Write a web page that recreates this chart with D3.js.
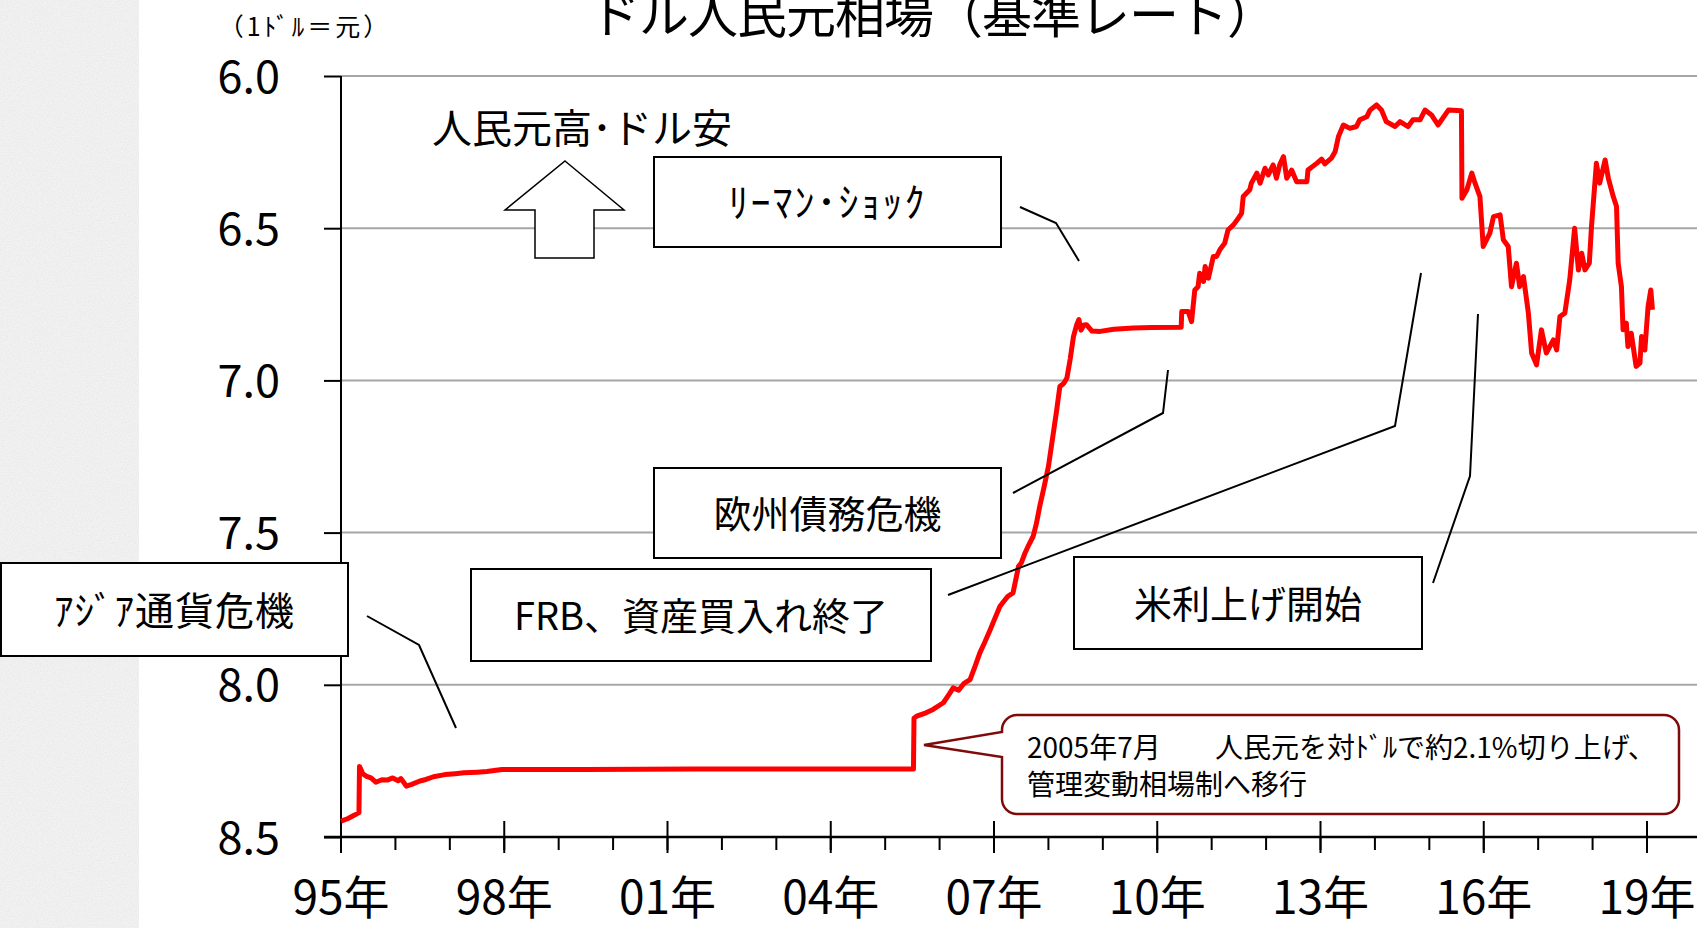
<!DOCTYPE html>
<html>
<head>
<meta charset="utf-8">
<script src="https://cdn.jsdelivr.net/npm/d3@7"></script>
<style>
  body { margin: 0; background: #fff; }
  svg { display: block; }
  text { font-family: "Noto Sans CJK JP", "Noto Sans", sans-serif; fill: #000; }
</style>
</head>
<body>
<script>
var width = 1697;
var height = 928;

// rate series (CNY per USD)
var years = [
  1995.00, 1995.12, 1995.25, 1995.33, 1995.34, 1995.40, 1995.46, 1995.55, 1995.64, 1995.75,
  1995.85, 1995.95, 1996.05, 1996.10, 1996.15, 1996.20, 1996.30, 1996.45, 1996.56, 1996.70,
  1996.91, 1997.10, 1997.26, 1997.50, 1997.68, 1997.85, 1997.96, 1999.50, 2001.50, 2003.50,
  2005.52, 2005.53, 2005.58, 2005.75, 2005.88, 2006.07, 2006.18, 2006.25, 2006.35, 2006.45,
  2006.56, 2006.65, 2006.74, 2006.83, 2006.93, 2007.02, 2007.11, 2007.25, 2007.35, 2007.45,
  2007.50, 2007.57, 2007.64, 2007.72, 2007.78, 2007.84, 2007.92, 2008.00, 2008.09, 2008.15,
  2008.21, 2008.28, 2008.34, 2008.40, 2008.46, 2008.52, 2008.56, 2008.60, 2008.65, 2008.70,
  2008.80, 2008.95, 2009.20, 2009.56, 2009.90, 2010.44, 2010.45, 2010.57, 2010.63, 2010.69,
  2010.75, 2010.78, 2010.85, 2010.88, 2010.94, 2011.03, 2011.09, 2011.15, 2011.24, 2011.30,
  2011.40, 2011.49, 2011.55, 2011.58, 2011.70, 2011.73, 2011.83, 2011.89, 2011.98, 2012.04,
  2012.13, 2012.19, 2012.25, 2012.32, 2012.38, 2012.47, 2012.56, 2012.75, 2012.77, 2012.93,
  2013.02, 2013.08, 2013.20, 2013.27, 2013.33, 2013.42, 2013.54, 2013.66, 2013.72, 2013.85,
  2013.91, 2014.03, 2014.12, 2014.21, 2014.37, 2014.46, 2014.61, 2014.70, 2014.83, 2014.92,
  2015.04, 2015.16, 2015.35, 2015.59, 2015.60, 2015.69, 2015.78, 2015.84, 2015.93, 2015.99,
  2016.11, 2016.18, 2016.30, 2016.36, 2016.45, 2016.51, 2016.60, 2016.66, 2016.73, 2016.82,
  2016.88, 2016.97, 2017.06, 2017.15, 2017.28, 2017.34, 2017.40, 2017.49, 2017.58, 2017.67,
  2017.74, 2017.80, 2017.86, 2017.94, 2017.98, 2018.07, 2018.13, 2018.23, 2018.29, 2018.38,
  2018.44, 2018.47, 2018.53, 2018.56, 2018.62, 2018.65, 2018.71, 2018.80, 2018.87, 2018.90,
  2018.96, 2019.02, 2019.07, 2019.10
];
var rates = [
  8.448, 8.440, 8.428, 8.420, 8.268, 8.292, 8.300, 8.306, 8.320, 8.312,
  8.313, 8.306, 8.315, 8.308, 8.320, 8.333, 8.327, 8.316, 8.311, 8.302,
  8.295, 8.292, 8.289, 8.287, 8.285, 8.281, 8.278, 8.278, 8.277, 8.277,
  8.277, 8.110, 8.103, 8.092, 8.081, 8.059, 8.030, 8.010, 8.018, 7.995,
  7.983, 7.940, 7.895, 7.860, 7.819, 7.780, 7.742, 7.710, 7.698, 7.611,
  7.600, 7.567, 7.540, 7.512, 7.470, 7.414, 7.350, 7.283, 7.173, 7.100,
  7.020, 7.010, 6.992, 6.930, 6.856, 6.817, 6.800, 6.835, 6.818, 6.817,
  6.838, 6.839, 6.832, 6.828, 6.826, 6.825, 6.774, 6.774, 6.807, 6.703,
  6.692, 6.648, 6.675, 6.626, 6.664, 6.593, 6.593, 6.571, 6.549, 6.506,
  6.489, 6.467, 6.451, 6.396, 6.374, 6.352, 6.319, 6.352, 6.303, 6.325,
  6.292, 6.336, 6.292, 6.265, 6.336, 6.309, 6.347, 6.347, 6.309, 6.287,
  6.273, 6.289, 6.270, 6.248, 6.199, 6.161, 6.172, 6.166, 6.144, 6.134,
  6.112, 6.095, 6.112, 6.150, 6.166, 6.150, 6.166, 6.144, 6.144, 6.112,
  6.128, 6.161, 6.112, 6.114, 6.402, 6.374, 6.319, 6.352, 6.396, 6.560,
  6.517, 6.462, 6.456, 6.538, 6.560, 6.692, 6.615, 6.692, 6.659, 6.779,
  6.910, 6.949, 6.834, 6.910, 6.867, 6.900, 6.790, 6.779, 6.670, 6.500,
  6.637, 6.582, 6.637, 6.615, 6.495, 6.287, 6.352, 6.276, 6.336, 6.396,
  6.429, 6.615, 6.692, 6.834, 6.812, 6.889, 6.845, 6.954, 6.943, 6.856,
  6.900, 6.757, 6.703, 6.768
];

var yTicks = [6.0, 6.5, 7.0, 7.5, 8.0, 8.5];
var majorYears = [1995, 1998, 2001, 2004, 2007, 2010, 2013, 2016, 2019];
var majorLabels = ["95年", "98年", "01年", "04年", "07年", "10年", "13年", "16年", "19年"];
var minorYears = d3.range(1995, 2020);

var title = "ドル人民元相場（基準レート）";
var unitLabel = "（1ﾄﾞﾙ＝元）";
var arrowLabel = "人民元高･ドル安";

// annotation boxes: text, box rect, leader polyline
var notes = [
  { text: "ﾘｰﾏﾝ･ｼｮｯｸ", box: [654, 157, 347, 90], size: 40, spacing: 2, leader: [[1020, 207], [1056, 223], [1079, 261]] },
  { text: "欧州債務危機", box: [654, 468, 347, 90], size: 38, spacing: 0, leader: [[1013, 493], [1163, 413], [1168, 370]] },
  { text: "FRB、資産買入れ終了", box: [471, 569, 460, 92], size: 38, spacing: 0, leader: [[948, 595], [1395, 426], [1421, 273]] },
  { text: "米利上げ開始", box: [1074, 557, 348, 92], size: 38, spacing: 0, leader: [[1433, 583], [1470, 476], [1478, 314]] },
  { text: "ｱｼﾞｱ通貨危機", box: [1, 563, 347, 93], size: 39, spacing: 1, leader: [[367, 616], [419, 645], [456, 728]] }
];
var calloutLine1a = "2005年7月";
var calloutLine1b = "人民元を対ﾄﾞﾙで約2.1%切り上げ、";
var calloutLine2 = "管理変動相場制へ移行";

var svg = d3.select("body").append("svg")
    .attr("width", width)
    .attr("height", height);

// paper texture on the left strip
var defs = svg.append("defs");
var paper = defs.append("filter").attr("id", "paper")
    .attr("x", 0).attr("y", 0).attr("width", "100%").attr("height", "100%");
paper.append("feTurbulence")
    .attr("type", "fractalNoise")
    .attr("baseFrequency", 0.8)
    .attr("numOctaves", 2)
    .attr("seed", 7);
paper.append("feColorMatrix")
    .attr("type", "matrix")
    .attr("values", "0.6 0 0 0 0.55  0.6 0 0 0 0.55  0.6 0 0 0 0.55  0 0 0 0 1");

svg.append("rect").attr("width", 139).attr("height", height).attr("fill", "#f0f0f0");
svg.append("rect").attr("width", 139).attr("height", height)
    .attr("filter", "url(#paper)").attr("opacity", 0.25);

var x = d3.scaleLinear().domain([1995, 2019]).range([341, 1647]);
var y = d3.scaleLinear().domain([6.0, 8.5]).range([76, 837]);

// gridlines
svg.append("g")
    .selectAll("line")
    .data(yTicks.slice(0, -1))
    .enter().append("line")
    .attr("x1", x(1995)).attr("x2", width)
    .attr("y1", function(d) { return y(d); })
    .attr("y2", function(d) { return y(d); })
    .attr("stroke", "#a6a6a6")
    .attr("stroke-width", 2);

// y axis
var yAxis = svg.append("g")
    .attr("transform", "translate(" + x(1995) + ",0)")
    .call(d3.axisLeft(y).tickValues(yTicks).tickSize(17).tickPadding(44)
        .tickFormat(d3.format(".1f")));
yAxis.select(".domain").remove();
yAxis.selectAll(".tick line").attr("stroke", "#000").attr("stroke-width", 2);
yAxis.selectAll(".tick text")
    .attr("dy", null).attr("y", 16)
    .style("font-family", "'Noto Sans CJK JP', sans-serif")
    .style("font-size", "45px")
    .attr("fill", "#000");
svg.append("line")
    .attr("x1", x(1995)).attr("x2", x(1995))
    .attr("y1", y(6.0)).attr("y2", y(8.5))
    .attr("stroke", "#000").attr("stroke-width", 2);

// x axis
var baseY = y(8.5);
svg.append("line")
    .attr("x1", x(1995) - 17).attr("x2", width)
    .attr("y1", baseY).attr("y2", baseY)
    .attr("stroke", "#000").attr("stroke-width", 2.5);
svg.append("g").selectAll("line")
    .data(minorYears)
    .enter().append("line")
    .attr("x1", function(d) { return x(d); })
    .attr("x2", function(d) { return x(d); })
    .attr("y1", baseY).attr("y2", baseY + 13)
    .attr("stroke", "#000").attr("stroke-width", 2);
svg.append("g").selectAll("line")
    .data(majorYears)
    .enter().append("line")
    .attr("x1", function(d) { return x(d); })
    .attr("x2", function(d) { return x(d); })
    .attr("y1", baseY - 16).attr("y2", baseY + 16)
    .attr("stroke", "#000").attr("stroke-width", 2);
svg.append("g").selectAll("text")
    .data(majorYears)
    .enter().append("text")
    .attr("x", function(d) { return x(d); })
    .attr("y", 914)
    .attr("text-anchor", "middle")
    .style("font-size", "46px")
    .text(function(d, i) { return majorLabels[i]; });

// title and unit
svg.append("text")
    .attr("x", 590).attr("y", 33)
    .style("font-size", "50px")
    .style("letter-spacing", "-1px")
    .text(title);
svg.append("text")
    .attr("x", 305).attr("y", 36)
    .attr("text-anchor", "middle")
    .style("font-size", "25px")
    .style("letter-spacing", "3px")
    .text(unitLabel);

// up arrow and its label
svg.append("text")
    .attr("x", 582).attr("y", 143)
    .attr("text-anchor", "middle")
    .style("font-size", "40px")
    .text(arrowLabel);
svg.append("polygon")
    .attr("points", "565,161 624,210 594,210 594,258 535,258 535,210 505,210")
    .attr("fill", "#fff")
    .attr("stroke", "#000")
    .attr("stroke-width", 1.5);

// annotation boxes (drawn over gridlines)
var noteG = svg.append("g").selectAll("g")
    .data(notes)
    .enter().append("g");
noteG.append("rect")
    .attr("x", function(d) { return d.box[0]; })
    .attr("y", function(d) { return d.box[1]; })
    .attr("width", function(d) { return d.box[2]; })
    .attr("height", function(d) { return d.box[3]; })
    .attr("fill", "#fff")
    .attr("stroke", "#000")
    .attr("stroke-width", 2);
noteG.append("text")
    .attr("x", function(d) { return d.box[0] + d.box[2] / 2; })
    .attr("y", function(d) { return d.box[1] + d.box[3] / 2 + 15; })
    .attr("text-anchor", "middle")
    .style("font-size", function(d) { return d.size + "px"; })
    .style("letter-spacing", function(d) { return d.spacing + "px"; })
    .text(function(d) { return d.text; });

// callout for 2005 revaluation
var cx0 = 1002, cy0 = 715, cx1 = 1679, cy1 = 814, r = 15;
var callPath = d3.path();
callPath.moveTo(cx0 + r, cy0);
callPath.lineTo(cx1 - r, cy0);
callPath.arcTo(cx1, cy0, cx1, cy0 + r, r);
callPath.lineTo(cx1, cy1 - r);
callPath.arcTo(cx1, cy1, cx1 - r, cy1, r);
callPath.lineTo(cx0 + r, cy1);
callPath.arcTo(cx0, cy1, cx0, cy1 - r, r);
callPath.lineTo(cx0, 757);
callPath.lineTo(924, 745);
callPath.lineTo(cx0, 732);
callPath.lineTo(cx0, cy0 + r);
callPath.arcTo(cx0, cy0, cx0 + r, cy0, r);
callPath.closePath();
svg.append("path")
    .attr("d", callPath.toString())
    .attr("fill", "#fff")
    .attr("stroke", "#7f0a0a")
    .attr("stroke-width", 2.5);
var callText = svg.append("text").style("font-size", "28px");
callText.append("tspan").attr("x", 1027).attr("y", 758).text(calloutLine1a);
callText.append("tspan").attr("x", 1215).attr("y", 758).text(calloutLine1b);
callText.append("tspan").attr("x", 1027).attr("y", 795).text(calloutLine2);

// rate line
var series = years.map(function(yr, i) { return [yr, rates[i]]; });
var line = d3.line()
    .x(function(d) { return x(d[0]); })
    .y(function(d) { return y(d[1]); });
svg.append("path")
    .datum(series)
    .attr("d", line)
    .attr("fill", "none")
    .attr("stroke", "#ff0000")
    .attr("stroke-width", 5)
    .attr("stroke-linejoin", "round");

// leader lines on top
svg.append("g").selectAll("polyline")
    .data(notes)
    .enter().append("polyline")
    .attr("points", function(d) { return d.leader.map(function(p) { return p.join(","); }).join(" "); })
    .attr("fill", "none")
    .attr("stroke", "#000")
    .attr("stroke-width", 2);
</script>
</body>
</html>
